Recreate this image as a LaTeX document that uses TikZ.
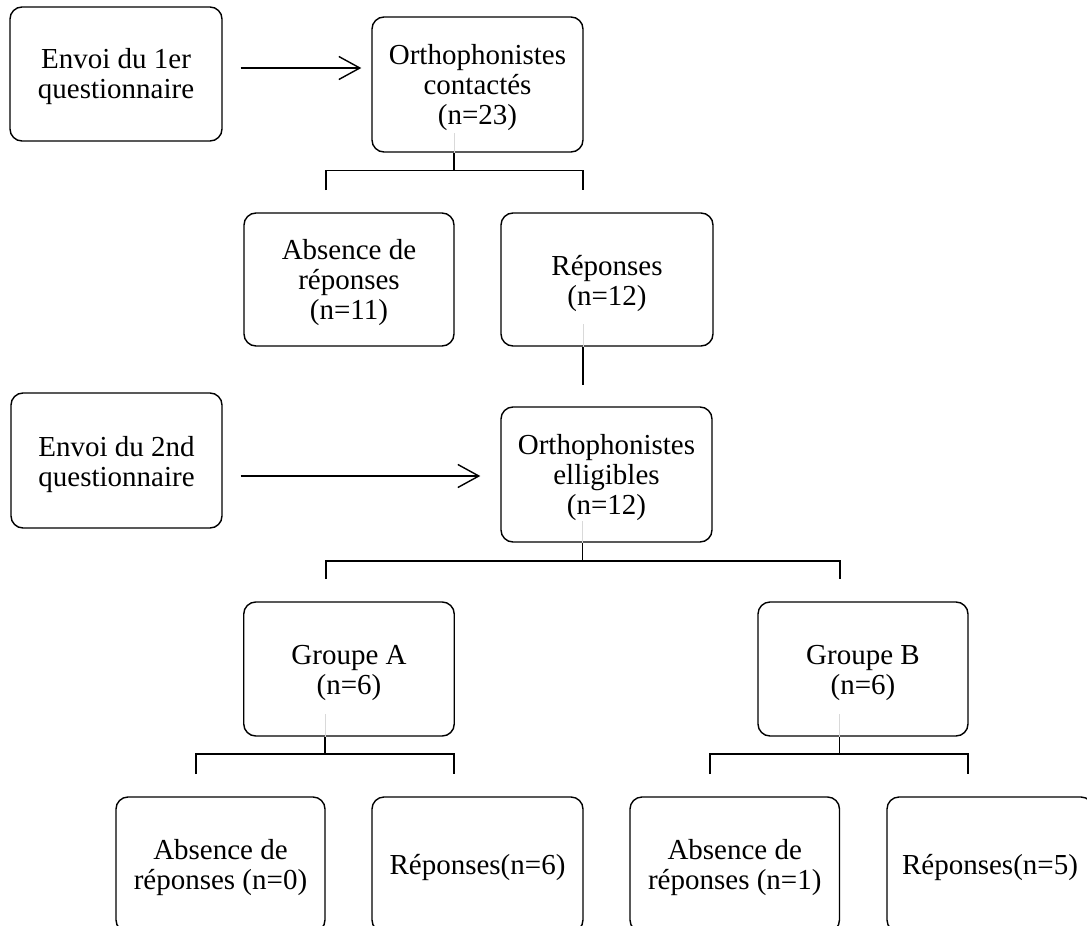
\documentclass[tikz,border=0pt]{standalone}
\usepackage{fontspec}
\setmainfont{Liberation Serif}
\usetikzlibrary{arrows.meta}
\tikzset{
  box/.style={draw=black, line width=1.4pt, rounded corners=12pt, inner sep=0pt},
  txt/.style={align=center, inner sep=0pt, font=\fontsize{29}{30}\selectfont},
  conn/.style={draw=black, line width=1.4pt},
  faint/.style={draw=black!15, line width=1pt},
  arr/.style={draw=black, line width=1.4pt, -{Straight Barb[length=21pt,width=23pt,line width=1.4pt]}}
}
\begin{document}
\begin{tikzpicture}[x=1pt,y=-1pt]
\useasboundingbox (0,0) rectangle (1087,926);
\clip (0,0) rectangle (1087,926);
\fill[white] (0,0) rectangle (1087,926);

% boxes
\node[box, minimum width=212pt, minimum height=134pt] (b1) at (116,74) {};
\node[box, minimum width=211pt, minimum height=135pt] (c1) at (477.5,84.5) {};
\node[box, minimum width=210pt, minimum height=133pt] (a1) at (349,279.5) {};
\node[box, minimum width=212pt, minimum height=133pt] (r1) at (607,279.5) {};
\node[box, minimum width=211pt, minimum height=135pt] (b2) at (116.5,460.5) {};
\node[box, minimum width=211pt, minimum height=135pt] (e1) at (606.5,474.5) {};
\node[box, minimum width=210.5pt, minimum height=134pt] (gA) at (349,669) {};
\node[box, minimum width=210pt, minimum height=134pt] (gB) at (863,669) {};
\node[box, minimum width=209pt, minimum height=135pt] (bA1) at (220.5,864.5) {};
\node[box, minimum width=211pt, minimum height=135pt] (bA2) at (477.5,864.5) {};
\node[box, minimum width=209.5pt, minimum height=135pt] (bB1) at (734.75,864.5) {};
\node[box, minimum width=206pt, minimum height=135pt] (bB2) at (990,864.5) {};

% texts
\node[txt] (b1t) at ([yshift=-3pt]b1.center) {Envoi du 1er\\questionnaire};
\node[txt] (c1t) at ([yshift=-3pt]c1.center) {Orthophonistes\\contactés\\(n=23)};
\node[txt] (a1t) at ([yshift=-3pt]a1.center) {Absence de\\réponses\\(n=11)};
\node[txt] (r1t) at ([yshift=-4pt]r1.center) {Réponses\\(n=12)};
\node[txt] (b2t) at ([yshift=-4pt]b2.center) {Envoi du 2nd\\questionnaire};
\node[txt] (e1t) at ([yshift=-3pt]e1.center) {Orthophonistes\\elligibles\\(n=12)};
\node[txt] (gAt) at ([yshift=-4pt]gA.center) {Groupe A\\(n=6)};
\node[txt] (gBt) at ([yshift=-4pt]gB.center) {Groupe B\\(n=6)};
\node[txt] (bA1t) at ([yshift=-3pt]bA1.center) {Absence de\\réponses (n=0)};
\node[txt] (bA2t) at ([yshift=-3pt]bA2.center) {Réponses(n=6)};
\node[txt] (bB1t) at ([yshift=-3pt]bB1.center) {Absence de\\réponses (n=1)};
\node[txt] (bB2t) at ([yshift=-3pt]bB2.center) {Réponses(n=5)};

% arrows
\draw[arr, shorten <=18pt, shorten >=10pt] (b1.east |- 0,68) -- (c1.west |- 0,68);
\draw[arr, shorten <=18pt, shorten >=20pt] (b2.east |- 0,476) -- (e1.west |- 0,476);

% junction coordinates
\coordinate (j1) at (454,170.5);
\coordinate (j2) at (583,385);
\coordinate (j3) at (582.5,561);
\coordinate (j4) at (325,754);
\coordinate (j5) at (839.5,754);

% faint lines inside boxes
\draw[faint] (j1 |- c1.south) -- ++(0,-20);
\draw[faint] (j2 |- r1.south) -- ++(0,-23);
\draw[faint] (j3 |- e1.south) -- ++(0,-22);
\draw[faint] (j4 |- gA.south) -- ++(0,-23);
\draw[faint] (j5 |- gB.south) -- ++(0,-23);

% connectors
\draw[conn] (j1 |- c1.south) -- (j1);
\draw[conn] (326,190) -- (326,170.5) -- (583,170.5) -- (583,190);
\draw[conn] (j2 |- r1.south) -- (j2);
\draw[conn] (j3 |- e1.south) -- (j3);
\draw[conn] (326,579) -- (326,561) -- (840,561) -- (840,579);
\draw[conn] (j4 |- gA.south) -- (j4);
\draw[conn] (196,774) -- (196,754) -- (454,754) -- (454,774);
\draw[conn] (j5 |- gB.south) -- (j5);
\draw[conn] (710,774) -- (710,754) -- (968,754) -- (968,774);
\end{tikzpicture}
\end{document}
